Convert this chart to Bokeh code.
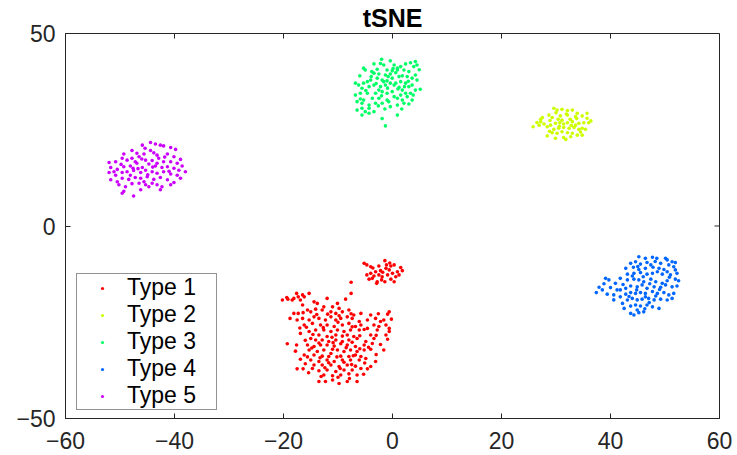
import math
from bokeh.plotting import figure
from bokeh.models import FixedTicker, Range1d
from bokeh.embed import file_html
from bokeh.resources import INLINE

# ---------------- data ----------------
type_names = ["Type 1", "Type 2", "Type 3", "Type 4", "Type 5"]
type_colors = ["#FF0000", "#CCFF00", "#00FF66", "#0066FF", "#CC00FF"]

type1 = [
    (-5.2,-9.7),(-4.7,-10.1),(-4.0,-10.6),(-2.5,-10.4),(-1.4,-9.0),(-1.1,-10.1),(-0.3,-10.4),(0.3,-10.1),
    (-1.2,-11.0),(-0.6,-11.4),(-2.2,-11.6),(-3.1,-11.9),(-4.0,-12.3),(-4.7,-12.7),(-3.4,-13.0),(-2.5,-12.7),
    (-1.9,-13.2),(-0.9,-12.7),(0.0,-12.3),(0.9,-11.9),(1.8,-11.6),(0.6,-13.2),(-0.3,-13.8),(-1.4,-14.5),
    (-2.8,-14.5),(-2.9,-14.9),(-3.7,-13.6),(-4.3,-13.8),(0.3,-14.5),(1.2,-12.7),
    (-3.6,-10.9),(-1.8,-12.0),(-0.5,-9.6),(1.5,-10.8),(-2.0,-14.0),
    (-7.6,-14.6),(-7.6,-17.5),(-8.6,-19.0),
    (-20.2,-19.2),(-19.4,-18.6),(-19.2,-19.0),(-18.4,-19.2),(-17.6,-17.5),(-17.3,-18.4),(-16.5,-17.9),
    (-16.2,-18.4),(-15.3,-17.5),(-16.9,-19.2),(-18.1,-18.8),(-16.5,-20.5),(-14.4,-19.7),(-13.8,-20.1),
    (-12.0,-18.8),(-10.1,-20.1),(-12.6,-21.0),(-11.0,-21.0),(-9.8,-21.4),
    (-15.6,-21.8),(-16.4,-22.5),(-18.1,-22.7),(-17.3,-22.7),(-15.0,-22.3),(-14.1,-21.6),(-12.9,-21.8),
    (-11.3,-22.3),(-10.4,-22.7),(-9.2,-22.3),(-8.0,-21.8),(-7.1,-23.1),(-5.8,-22.7),(-4.0,-23.1),
    (-0.6,-22.3),(-0.9,-22.9),
    (-17.5,-24.4),(-16.5,-24.0),(-15.3,-24.4),(-14.4,-23.6),(-13.5,-24.0),(-12.3,-24.4),(-11.3,-23.6),
    (-10.4,-24.4),(-9.5,-24.0),(-8.3,-23.6),(-7.4,-24.0),(-6.1,-24.8),(-4.6,-24.4),(-3.1,-24.0),
    (-2.2,-24.8),(-1.6,-24.4),(-16.2,-25.7),(-14.7,-25.3),(-13.2,-25.7),(-12.0,-25.7),(-10.7,-26.1),
    (-9.2,-25.7),(-8.0,-25.3),(-6.8,-26.1),(-5.8,-25.7),(-3.4,-25.7),(-2.5,-26.1),(-1.2,-25.7),
    (-16.9,-27.9),(-15.3,-27.4),(-14.1,-27.0),(-12.6,-27.0),(-11.3,-27.4),(-10.1,-27.0),(-8.9,-27.4),
    (-7.7,-27.0),(-6.1,-27.0),(-4.6,-26.6),(-2.8,-27.0),(-0.6,-27.4),(-13.5,-28.3),(-12.0,-28.7),
    (-10.4,-28.3),(-9.2,-28.6),(-8.3,-28.3),(-7.1,-28.7),(-4.0,-28.3),(-0.6,-26.6),
    (-15.0,-29.2),(-14.1,-29.6),(-12.9,-29.6),(-11.7,-30.0),(-10.4,-29.6),(-9.2,-30.0),(-8.0,-29.6),
    (-6.5,-29.2),(-4.9,-30.0),(-3.4,-29.2),(-0.9,-29.4),(-19.3,-30.6),(-17.6,-30.9),(-15.6,-30.9),
    (-14.4,-31.3),(-13.2,-30.9),(-12.0,-30.9),(-10.7,-31.2),(-9.5,-30.6),(-8.3,-30.9),(-6.8,-31.3),
    (-5.2,-30.9),(-3.7,-30.5),
    (-15.3,-32.2),(-13.8,-32.6),(-12.6,-32.2),(-11.3,-33.1),(-10.1,-32.2),(-8.9,-32.6),(-7.7,-32.2),
    (-6.5,-32.6),(-5.2,-32.2),(-4.0,-32.0),(-1.6,-32.2),(-16.2,-33.5),(-14.4,-33.5),(-12.9,-33.8),
    (-11.7,-33.9),(-9.5,-33.8),(-8.0,-33.9),(-6.8,-33.5),(-5.8,-33.9),
    (-16.9,-34.6),(-15.0,-34.8),(-13.5,-35.2),(-12.0,-34.8),(-10.7,-35.2),(-9.2,-34.8),(-7.7,-34.8),
    (-6.1,-34.8),(-4.9,-34.4),(-3.1,-35.2),(-14.4,-36.1),(-12.9,-36.1),(-11.3,-36.1),(-9.8,-36.5),
    (-8.3,-36.1),(-6.8,-36.4),(-4.0,-36.5),
    (-17.5,-37.1),(-16.4,-37.1),(-14.7,-37.0),(-13.5,-37.6),(-12.0,-37.4),(-10.4,-37.8),(-8.9,-37.4),
    (-7.4,-37.4),(-5.8,-37.0),(-4.6,-37.1),(-12.6,-38.7),(-11.0,-38.9),(-9.5,-38.7),(-8.0,-38.4),
    (-6.5,-38.7),(-13.5,-40.4),(-12.3,-40.4),(-11.0,-40.0),(-9.8,-40.9),(-8.3,-40.4),(-6.5,-40.4),
    (-13.9,-23.0),(-11.9,-22.9),(-9.8,-23.3),(-7.6,-22.8),(-15.8,-26.3),(-12.7,-26.4),(-10.0,-25.0),
    (-7.4,-26.2),(-5.2,-26.9),(-14.6,-28.2),(-11.1,-28.9),(-6.0,-28.5),(-3.0,-28.4),(-16.0,-29.7),
    (-13.5,-30.4),(-10.9,-30.3),(-7.4,-30.2),(-4.4,-31.5),(-2.2,-30.8),(-17.8,-32.5),(-14.8,-31.7),
    (-11.0,-32.0),(-8.5,-31.6),(-6.0,-31.9),(-3.0,-33.4),(-15.6,-34.0),(-13.3,-34.2),(-10.2,-34.0),
    (-7.2,-33.7),(-5.1,-35.6),(-16.0,-35.8),(-11.7,-35.5),(-8.9,-35.4),(-7.5,-36.0),(-15.4,-38.1),
    (-13.1,-39.1),(-10.0,-39.3),(-7.9,-39.6),(-5.3,-38.5),(-9.6,-37.0),(-12.4,-36.8),(-1.2,-28.3),
    (-0.2,-24.2),(-2.6,-22.8),(-18.8,-24.0),(-17.0,-26.5),
]

type2 = [
    (29.6,30.6),(30.2,30.1),(31.1,30.3),(32.1,30.0),(33.0,30.1),(33.9,29.3),(35.7,29.3),(27.5,28.2),
    (27.2,27.7),(28.7,28.8),(29.3,28.2),(30.8,28.6),(32.1,28.8),(33.6,28.4),(34.8,28.6),(25.8,25.8),
    (26.9,26.2),(27.8,26.5),(28.4,25.8),(29.0,26.2),(29.9,26.7),(30.7,26.8),(31.4,26.5),(32.1,26.8),
    (33.0,27.1),(33.6,26.2),(34.2,26.7),(35.1,26.8),(36.0,26.8),(29.6,25.1),(30.5,25.4),(31.4,25.6),
    (32.4,25.4),(33.3,25.6),(34.2,25.1),(34.8,25.4),(35.4,25.1),(29.3,24.2),(30.2,24.1),(31.1,24.5),
    (32.1,24.2),(33.0,24.1),(33.9,23.6),(34.8,23.6),(28.4,23.4),(29.9,22.8),(31.4,23.0),(31.8,22.5),
    (32.7,23.2),(27.2,27.1),(31.1,27.5),(32.6,27.7),(35.7,28.0),(28.9,27.4),(30.4,27.7),
    (31.9,29.1),(30.0,29.4),(33.8,27.9),(30.6,25.9),(32.8,26.1),(34.5,24.4),(28.8,24.6),(36.4,27.3),
    (26.5,26.9),
]

type3 = [
    (-2.0,43.3),(-0.4,42.9),(0.3,41.8),(1.5,41.4),(2.4,42.1),(3.3,42.4),(4.2,42.7),(4.5,41.8),(3.9,41.4),
    (-3.4,42.1),(-1.6,41.8),(-5.3,41.0),(-5.0,40.5),(-2.8,40.7),(-1.0,40.5),(-0.05,40.3),(0.9,40.5),
    (2.1,40.5),(3.0,40.1),(4.2,39.2),(-6.0,39.0),(-3.4,39.7),(-2.5,39.5),(-1.3,39.2),(-0.4,39.5),
    (0.6,39.8),(1.8,39.0),(2.7,38.8),(3.6,38.4),(4.5,37.9),(-6.8,37.1),(-6.2,36.6),(-5.3,37.1),
    (-4.6,37.5),(-4.0,37.9),(-2.8,38.4),(-1.9,37.9),(-1.0,37.7),(-0.05,38.4),(0.6,37.1),(1.5,37.5),
    (2.4,37.1),(3.6,36.6),(5.1,35.5),(-5.6,35.8),(-4.3,36.2),(-3.4,36.6),(-2.2,36.2),(-1.3,36.6),
    (-0.4,37.1),(0.3,36.6),(1.2,36.0),(3.0,36.2),(-6.8,34.0),(-5.9,34.5),(-4.6,34.5),(-3.1,34.5),
    (-1.9,34.9),(-1.0,34.5),(-0.05,34.9),(1.5,34.0),(3.3,34.5),(4.2,35.3),(-5.3,32.7),(-3.7,33.2),
    (-2.5,33.2),(-1.0,32.7),(0.9,33.2),(1.8,32.7),(2.7,33.6),(3.6,32.7),(-5.6,31.9),(-4.3,31.4),
    (-3.1,31.9),(-1.9,31.9),(-0.4,31.0),(0.9,31.4),(2.1,31.9),(3.0,31.7),(-6.5,30.1),(-5.6,30.6),
    (-5.0,29.7),(-4.3,29.3),(-3.4,29.7),(-5.6,28.8),(-1.9,27.9),(0.9,28.8),(-1.3,26.0),(-4.3,30.6),
    (-0.7,32.3),(0.3,33.6),(-2.5,35.3),(-1.6,37.5),(1.8,35.3),(-6.5,32.3),(2.4,34.5),(1.2,38.8),
    (-3.0,37.0),(-0.8,38.8),(1.0,35.6),(-2.0,33.8),(-4.9,35.2),(0.1,40.9),(2.9,37.6),(-3.8,40.1),
    (-1.4,30.4),(2.2,36.2),(-5.9,33.0),(-2.6,31.2),(3.8,34.0),(1.7,30.4),(-0.9,35.8),(-3.9,38.8),
    (0.9,41.0),(-2.2,42.2),(4.9,40.6),
]

type4 = [
    (45.2,-8.0),(46.4,-8.4),(47.7,-8.1),(48.5,-8.4),(50.1,-8.4),(50.4,-8.8),(51.3,-9.3),(51.9,-9.5),
    (43.7,-9.7),(44.6,-9.3),(45.5,-9.9),(46.7,-9.5),(47.4,-10.1),(49.2,-9.7),(50.7,-10.1),(51.6,-10.6),
    (42.8,-11.0),(44.2,-10.7),(45.2,-11.3),(46.4,-11.0),(47.8,-10.7),(48.9,-11.0),(49.8,-11.3),
    (50.4,-11.9),(51.9,-11.4),(43.1,-12.5),(44.3,-12.3),(45.5,-12.1),(46.7,-12.5),(47.7,-12.3),
    (49.5,-12.5),(51.0,-12.7),(52.2,-12.3),(39.1,-13.6),(39.7,-14.0),(40.9,-14.9),(43.1,-14.0),
    (44.3,-13.8),(45.2,-14.0),(46.1,-14.5),(47.4,-13.8),(48.3,-14.5),(50.4,-14.2),(51.9,-13.8),
    (52.5,-14.2),(37.9,-15.9),(37.4,-17.3),(38.5,-16.6),(39.4,-17.7),(40.6,-17.9),(41.8,-16.6),
    (42.8,-16.2),(43.7,-15.6),(44.9,-15.8),(45.8,-15.3),(46.7,-16.2),(48.0,-15.8),(49.2,-15.9),
    (50.1,-15.3),(51.3,-15.8),(52.2,-15.6),(40.6,-19.2),(41.8,-18.4),(42.8,-17.7),(43.7,-17.3),
    (44.6,-17.5),(45.5,-17.3),(46.4,-17.5),(47.7,-17.0),(48.6,-17.5),(49.8,-17.3),(50.7,-17.9),
    (51.6,-17.5),(42.2,-20.1),(43.1,-19.2),(44.0,-18.8),(44.9,-19.2),(45.8,-19.0),(47.0,-18.8),
    (48.0,-19.2),(49.2,-19.0),(50.4,-19.2),(51.3,-18.8),(42.5,-21.4),(43.7,-20.8),(44.6,-20.5),
    (45.5,-20.8),(46.7,-20.5),(47.7,-21.0),(48.9,-21.4),(43.7,-22.7),(44.3,-23.1),(45.2,-22.5),
    (46.1,-22.3),(41.8,-13.6),(49.5,-14.9),(48.3,-18.2),(41.2,-16.6),(44.0,-13.0),(48.6,-11.9),
    (46.4,-18.4),(44.9,-21.8),(46.0,-13.2),(44.8,-16.6),(47.2,-15.0),(42.3,-15.2),(49.0,-16.5),
    (45.0,-10.5),(48.2,-9.2),(50.8,-13.3),(43.4,-18.3),(47.1,-19.9),(46.3,-21.5),(40.0,-16.0),
    (38.8,-15.0),
]

type5 = [
    (-44.4,21.7),(-43.5,21.3),(-42.6,21.0),(-42.0,20.8),(-45.9,21.0),(-40.7,20.4),(-39.8,19.9),
    (-49.3,18.7),(-47.8,19.6),(-46.9,18.9),(-45.6,18.7),(-44.4,19.6),(-43.2,18.4),(-41.3,18.7),
    (-40.1,18.0),(-38.9,17.3),(-52.0,16.5),(-50.8,16.7),(-49.6,17.6),(-48.7,17.1),(-47.8,17.6),
    (-46.5,18.0),(-45.3,17.1),(-44.1,17.0),(-42.9,17.6),(-42.0,16.7),(-40.7,16.7),(-39.5,16.3),
    (-38.6,15.6),(-51.7,15.2),(-50.5,14.7),(-49.3,15.4),(-48.1,15.6),(-46.9,16.3),(-45.9,15.2),
    (-44.7,16.1),(-43.5,15.6),(-42.3,15.2),(-41.3,15.4),(-40.1,15.0),(-39.2,14.5),(-38.0,14.1),
    (-52.0,13.9),(-50.8,13.2),(-49.6,13.9),(-48.7,14.1),(-47.5,14.4),(-46.2,13.9),(-45.3,14.5),
    (-44.1,14.1),(-43.2,13.7),(-42.0,14.1),(-40.7,13.5),(-39.5,13.2),(-51.7,12.0),(-50.5,11.5),
    (-49.6,12.4),(-48.4,12.1),(-47.2,12.6),(-46.2,12.4),(-45.0,12.8),(-43.8,12.1),(-42.6,12.6),
    (-41.3,12.0),(-40.1,11.3),(-50.2,10.7),(-49.0,10.2),(-47.8,11.0),(-46.5,11.1),(-45.3,10.7),
    (-44.1,11.1),(-43.2,10.7),(-42.3,10.2),(-49.3,9.0),(-49.6,8.5),(-47.5,7.8),(-46.2,9.4),
    (-44.7,10.2),(-42.6,9.4),(-40.7,10.7),(-51.1,14.1),(-43.2,16.3),(-48.1,13.2),(-45.6,11.5),
    (-38.9,12.4),(-47.2,16.7),(-46.0,17.4),(-44.9,13.3),(-43.8,19.0),(-47.6,15.0),(-41.8,17.9),
    (-49.8,16.0),(-45.4,20.2),(-44.0,15.3),(-46.7,14.9),(-41.0,14.2),
]

x_limits = (-60, 60)
y_limits = (-50, 50)
x_ticks = [-60, -40, -20, 0, 20, 40, 60]
y_ticks = [-50, 0, 50]
title_text = "tSNE"

# ---------------- figure ----------------
FONT = "Liberation Sans"
AX = "#262626"

p = figure(width=737, height=455, output_backend="svg", toolbar_location=None,
           x_range=Range1d(*x_limits), y_range=Range1d(*y_limits),
           min_border_left=65, min_border_right=18, min_border_top=33, min_border_bottom=37)
p.background_fill_color = "white"
p.border_fill_color = "white"
p.grid.visible = False
p.outline_line_color = AX
p.outline_line_width = 1
p.outline_line_alpha = 1

p.title.text = title_text
p.title.align = "center"
p.title.text_font = FONT
p.title.text_font_size = "25px"
p.title.text_font_style = "bold"
p.title.text_color = "black"
p.title.standoff = 3

for ax, ticks in ((p.xaxis[0], x_ticks), (p.yaxis[0], y_ticks)):
    ax.ticker = FixedTicker(ticks=ticks)
    ax.major_tick_in = 5
    ax.major_tick_out = 0
    ax.minor_tick_in = 0
    ax.minor_tick_out = 0
    ax.axis_line_color = AX
    ax.major_tick_line_color = AX
    ax.major_label_text_color = AX
    ax.major_label_text_font = FONT
    ax.major_label_text_font_size = "23px"
p.xaxis[0].major_label_standoff = 13
p.yaxis[0].major_label_standoff = 10

# mirrored tick marks on the top and right edges of the box (MATLAB style)
p.ray(x=x_ticks, y=[y_limits[1]] * len(x_ticks), length=5, length_units="screen",
      angle=-math.pi / 2, line_color=AX, line_width=1)
p.ray(x=[x_limits[1]] * len(y_ticks), y=y_ticks, length=5, length_units="screen",
      angle=math.pi, line_color=AX, line_width=1)

for pts, name, color in zip([type1, type2, type3, type4, type5], type_names, type_colors):
    xs = [q[0] for q in pts]
    ys = [q[1] for q in pts]
    p.scatter(xs, ys, marker="circle", size=3.6, fill_color=color, line_color=None,
              legend_label=name)

lg = p.legend[0]
lg.location = (11, 8)
lg.border_line_color = AX
lg.border_line_width = 1
lg.background_fill_color = "white"
lg.background_fill_alpha = 1
lg.label_text_font = FONT
lg.label_text_font_size = "23px"
lg.label_text_color = "black"
lg.label_height = 20
lg.glyph_height = 8
lg.glyph_width = 50
lg.label_width = 89
lg.label_standoff = 0
lg.spacing = 0
lg.padding = 0
lg.margin = 0

open("out.html", "w").write(file_html(p, INLINE))
